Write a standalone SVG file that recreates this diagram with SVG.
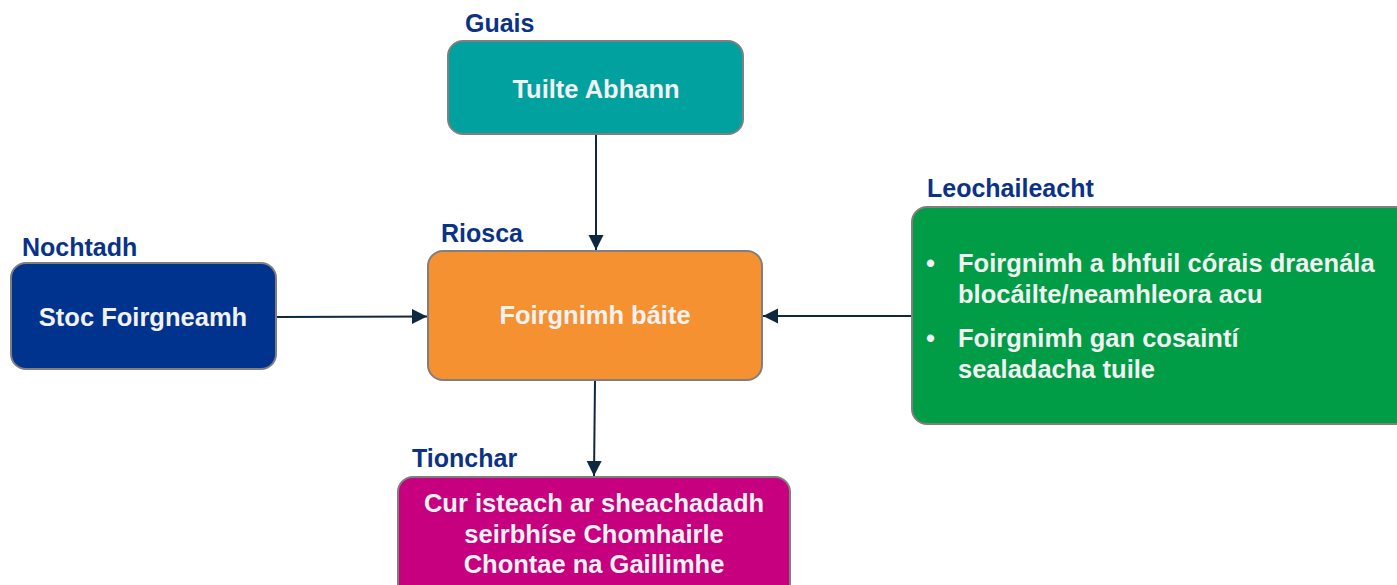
<svg xmlns="http://www.w3.org/2000/svg" width="1397" height="585" viewBox="0 0 1397 585">
<defs>
<style>
.box{stroke:#7f7f7f;stroke-width:2}
.lbl{font-family:"Liberation Sans",Arial,sans-serif;font-weight:bold;font-size:25px;fill:#0a3287}
.txt{font-family:"Liberation Sans",Arial,sans-serif;font-weight:bold;font-size:25.5px;fill:#f2f2f2}
.mid{text-anchor:middle}
.con{stroke:#0d2840;stroke-width:2;fill:none}
</style>
<marker id="ah" markerUnits="userSpaceOnUse" markerWidth="16" markerHeight="16" viewBox="0 0 16 16" refX="15" refY="8" orient="auto">
<path d="M0,0.5 L15,8 L0,15.5 Z" fill="#0d2840"/>
</marker>
</defs>
<rect width="1397" height="585" fill="#ffffff"/>
<g id="connectors">
<line class="con" x1="596" y1="134" x2="596" y2="250" marker-end="url(#ah)"/>
<line class="con" x1="277" y1="317" x2="427" y2="316.5" marker-end="url(#ah)"/>
<line class="con" x1="912" y1="316" x2="763" y2="316" marker-end="url(#ah)"/>
<line class="con" x1="595" y1="380" x2="594" y2="476" marker-end="url(#ah)"/>
</g>
<g id="guais">
<text class="lbl" x="465" y="32">Guais</text>
<rect class="box" x="448" y="41" width="295" height="93" rx="15" fill="#00a19f"/>
<text class="txt mid" x="596" y="98">Tuilte Abhann</text>
</g>
<g id="riosca">
<text class="lbl" x="441" y="242">Riosca</text>
<rect class="box" x="428" y="251" width="334" height="129" rx="15" fill="#f69131"/>
<text class="txt mid" x="595" y="324">Foirgnimh báite</text>
</g>
<g id="nochtadh">
<text class="lbl" x="22" y="256">Nochtadh</text>
<rect class="box" x="11" y="263" width="265" height="106" rx="15" fill="#00338d"/>
<text class="txt mid" x="143" y="326">Stoc Foirgneamh</text>
</g>
<g id="leochaileacht">
<text class="lbl" x="927" y="197">Leochaileacht</text>
<rect class="box" x="912" y="207" width="500" height="217" rx="15" fill="#009c46"/>
<text class="txt" x="926" y="272">•</text>
<text class="txt" x="958" y="272">Foirgnimh a bhfuil córais draenála</text>
<text class="txt" x="958" y="303">blocáilte/neamhleora acu</text>
<text class="txt" x="926" y="347">•</text>
<text class="txt" x="958" y="347">Foirgnimh gan cosaintí</text>
<text class="txt" x="958" y="378">sealadacha tuile</text>
</g>
<g id="tionchar">
<text class="lbl" x="412" y="467">Tionchar</text>
<rect class="box" x="398" y="477" width="392" height="130" rx="15" fill="#c6007e"/>
<text class="txt mid" x="594" y="512">Cur isteach ar sheachadadh</text>
<text class="txt mid" x="594" y="543">seirbhíse Chomhairle</text>
<text class="txt mid" x="594" y="573">Chontae na Gaillimhe</text>
</g>
</svg>
